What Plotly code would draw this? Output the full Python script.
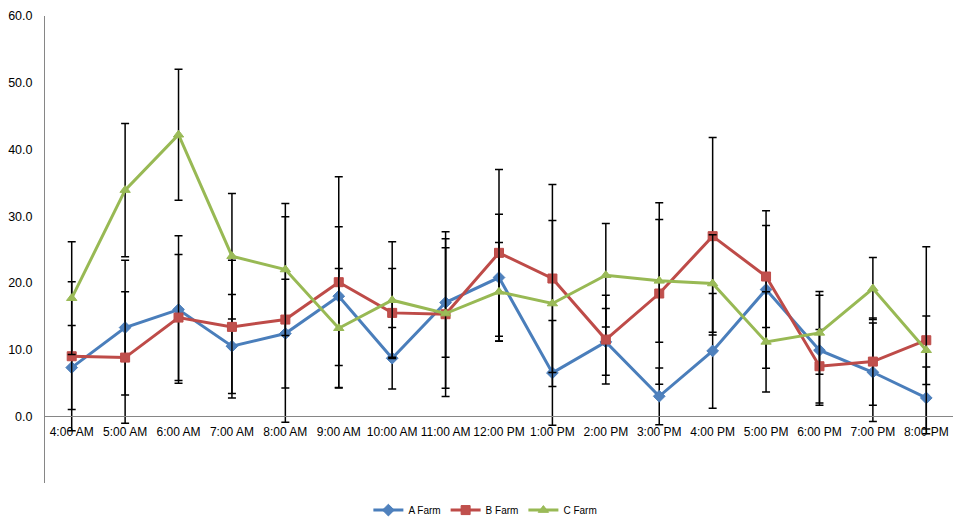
import plotly.graph_objects as go

hours = [
    "4:00 AM", "5:00 AM", "6:00 AM", "7:00 AM", "8:00 AM", "9:00 AM",
    "10:00 AM", "11:00 AM", "12:00 PM", "1:00 PM", "2:00 PM", "3:00 PM",
    "4:00 PM", "5:00 PM", "6:00 PM", "7:00 PM", "8:00 PM",
]

a_farm = [7.3, 13.3, 16.0, 10.5, 12.4, 18.0, 8.7, 17.05, 20.8, 6.5, 11.15, 3.0, 9.8, 19.0, 9.9, 6.6, 2.75]
a_err = [6.3, 10.1, 11.05, 7.75, 8.15, 10.4, 4.6, 8.2, 9.5, 7.85, 5.0, 4.25, 8.6, 11.8, 8.25, 7.4, 4.65]

b_farm = [9.0, 8.8, 14.8, 13.4, 14.5, 20.1, 15.5, 15.3, 24.5, 20.65, 11.5, 18.4, 27.0, 20.95, 7.5, 8.2, 11.4]
b_err = [11.15, 9.85, 9.45, 10.0, 15.4, 15.8, 6.65, 12.35, 12.5, 14.1, 6.65, 13.6, 14.8, 7.65, 5.5, 6.55, 14.0]

c_farm = [17.7, 33.9, 42.2, 24.0, 22.0, 13.2, 17.4, 15.4, 18.65, 16.9, 21.15, 20.3, 19.9, 11.15, 12.5, 19.15, 9.9]
c_err = [8.45, 10.0, 9.8, 9.4, 9.9, 8.95, 8.75, 11.2, 7.4, 12.45, 7.75, 9.2, 7.3, 7.5, 6.2, 4.65, 5.15]

series = [
    ("A Farm", a_farm, a_err, "#4A7EBB", "#4F81BD", "diamond", 9),
    ("B Farm", b_farm, b_err, "#BE4B48", "#C0504D", "square", 9),
    ("C Farm", c_farm, c_err, "#98B954", "#9BBB59", "triangle-up", 9),
]

fig = go.Figure()

for name, vals, errs, line_col, marker_col, symbol, size in series:
    fig.add_trace(
        go.Scatter(
            x=hours,
            y=vals,
            name=name,
            mode="lines+markers",
            line=dict(color=line_col, width=3),
            marker=dict(symbol=symbol, size=size, color=marker_col,
                        line=dict(color=line_col, width=1)),
            error_y=dict(type="data", array=errs, visible=True,
                         color="black", thickness=1.5, width=4),
        )
    )

# the page body adds 8px on the left and top, so margins are trimmed by that
fig.update_layout(
    width=969,
    height=531,
    plot_bgcolor="white",
    paper_bgcolor="white",
    margin=dict(l=37, r=24, t=8, b=56, autoexpand=False),
    font=dict(family="Liberation Sans, Arial, sans-serif", size=12, color="black"),
    showlegend=True,
    legend=dict(
        orientation="h",
        x=0.485,
        xanchor="center",
        y=-0.058,
        yanchor="middle",
        font=dict(size=10),
        itemwidth=30,
    ),
)

fig.update_xaxes(
    type="category",
    range=[-0.5, 16.5],
    anchor="free",
    position=10 / 70,
    showline=True,
    linecolor="#868686",
    linewidth=1,
    showgrid=False,
    zeroline=False,
    ticks="",
    tickangle=0,
    ticklabelstandoff=4,
    tickfont=dict(size=12),
)

fig.update_yaxes(
    range=[-10, 60],
    anchor="x",
    tickvals=[0, 10, 20, 30, 40, 50, 60],
    tickformat=".1f",
    showline=True,
    linecolor="#868686",
    linewidth=1,
    showgrid=False,
    zeroline=False,
    ticks="",
    ticklabelstandoff=9,
    tickfont=dict(size=12.5),
)

fig.write_html("out.html")
